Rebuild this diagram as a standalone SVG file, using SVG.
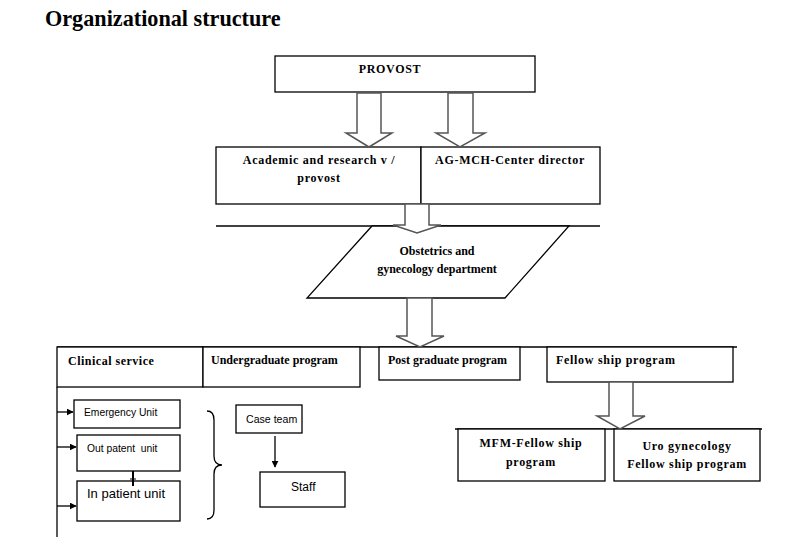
<svg xmlns="http://www.w3.org/2000/svg" width="801" height="552" viewBox="0 0 801 552">
<style>
.box{fill:#fff;stroke:#000;stroke-width:1.3}
.ln{fill:none;stroke:#000;stroke-width:1.3}
.blk{fill:#fff;stroke:#555;stroke-width:1.5;stroke-linejoin:miter}
.tb{font-family:"Liberation Serif","Times New Roman",serif;font-weight:bold;font-size:12px;letter-spacing:0.7px;fill:#000}
.tn{font-family:"Liberation Serif","Times New Roman",serif;font-weight:bold;font-size:12px;fill:#000}
.ts{font-family:"Liberation Sans",Arial,sans-serif;font-size:10.3px;fill:#000}
.tl{font-family:"Liberation Sans",Arial,sans-serif;font-size:12px;fill:#000}
</style>
<defs>
<marker id="ah" viewBox="0 0 10 10" refX="9" refY="5" markerWidth="7" markerHeight="7" markerUnits="userSpaceOnUse" orient="auto">
<path d="M0,0 L10,5 L0,10 z" fill="#000"/>
</marker>
</defs>
<rect width="801" height="552" fill="#fff"/>
<text x="45" y="26" font-family="Liberation Serif,'Times New Roman',serif" font-weight="bold" font-size="22.2" fill="#000">Organizational structure</text>

<g id="provost">
<rect class="box" x="275" y="56" width="260" height="36"/>
<text class="tb" x="390" y="73" text-anchor="middle">PROVOST</text>
</g>
<g id="academic">
<rect class="box" x="216" y="147" width="205" height="57"/>
<text class="tb" x="319" y="164" text-anchor="middle">Academic and research v /</text>
<text class="tb" x="319" y="182" text-anchor="middle">provost</text>
</g>
<g id="agmch">
<rect class="box" x="421" y="147" width="179" height="57"/>
<text class="tb" x="510" y="164" text-anchor="middle">AG-MCH-Center director</text>
</g>
<g id="department">
<line class="ln" x1="216" y1="226" x2="600" y2="226"/>
<polygon class="box" points="372,226 569,226 505,298 307,298"/>
<text class="tn" x="437" y="255" text-anchor="middle">Obstetrics and</text>
<text class="tn" x="437" y="273" text-anchor="middle">gynecology department</text>
</g>
<g id="row2line">
<line class="ln" x1="57" y1="347" x2="737" y2="347"/>
</g>
<g id="clinical">
<rect class="box" x="57" y="347" width="146" height="40"/>
<text class="tb" x="68" y="365" style="letter-spacing:0.5px">Clinical service</text>
</g>
<g id="undergraduate">
<rect class="box" x="203" y="347" width="157" height="40"/>
<text class="tn" x="211" y="364">Undergraduate program</text>
</g>
<g id="postgraduate">
<rect class="box" x="379" y="347" width="141" height="33"/>
<text class="tn" x="388" y="364">Post graduate program</text>
</g>
<g id="fellowship">
<rect class="box" x="547" y="347" width="186" height="35"/>
<text class="tb" x="556" y="364">Fellow ship program</text>
</g>
<g id="mfm">
<line class="ln" x1="455" y1="429" x2="762" y2="429"/>
<rect class="box" x="458" y="429" width="147" height="52"/>
<text class="tb" x="531" y="447" text-anchor="middle">MFM-Fellow ship</text>
<text class="tb" x="531" y="466" text-anchor="middle">program</text>
</g>
<g id="uro">
<rect class="box" x="614" y="429" width="146" height="52"/>
<text class="tb" x="687" y="450" text-anchor="middle">Uro gynecology</text>
<text class="tb" x="687" y="468" text-anchor="middle">Fellow ship program</text>
</g>
<g id="emergency">
<rect class="box" x="74" y="400" width="106" height="28"/>
<text class="ts" x="84" y="416">Emergency Unit</text>
</g>
<g id="outpatient">
<rect class="box" x="77" y="435" width="103" height="36"/>
<text class="ts" x="87" y="452" xml:space="preserve">Out patent  unit</text>
</g>
<g id="inpatient">
<rect class="box" x="77" y="481" width="103" height="40"/>
<text class="tl" x="87" y="498" style="font-size:13px">In patient unit</text>
</g>
<g id="caseteam">
<rect class="box" x="236" y="405" width="66" height="28"/>
<text class="tl" x="246" y="423" style="font-size:10.6px">Case team</text>
</g>
<g id="staff">
<rect class="box" x="260" y="472" width="85" height="35"/>
<text class="tl" x="291" y="491">Staff</text>
</g>
<g id="connectors">
<polygon class="blk" points="357,93 381,93 381,133 392,133 369,147 346,133 357,133"/>
<polygon class="blk" points="448,93 473,93 473,133 485,133 460,147 436,133 448,133"/>
<polygon class="blk" points="405,204 429,204 429,225 441,225 417,233 393,225 405,225"/>
<polygon class="blk" points="407,298 432,298 432,336 444,336 420,347 396,336 407,336"/>
<polygon class="blk" points="609,382 633,382 633,416 645,416 620,429 597,416 609,416"/>
<line class="ln" x1="57" y1="387" x2="57" y2="537"/>
<line class="ln" x1="57" y1="412" x2="73" y2="412" marker-end="url(#ah)"/>
<line class="ln" x1="57" y1="447" x2="76" y2="447" marker-end="url(#ah)"/>
<line class="ln" x1="57" y1="506" x2="76" y2="506" marker-end="url(#ah)"/>
<line x1="133" y1="471" x2="133" y2="486" stroke="#000" stroke-width="2"/>
<line x1="130" y1="479" x2="136" y2="479" stroke="#000" stroke-width="1"/>
<path class="ln" d="M207,411 Q214,411 214,420 L214,456 Q214,465 222,465 Q214,465 214,474 L214,510 Q214,519 207,519"/>
<line class="ln" x1="275" y1="436" x2="275" y2="467" marker-end="url(#ah)"/>
</g>
</svg>
